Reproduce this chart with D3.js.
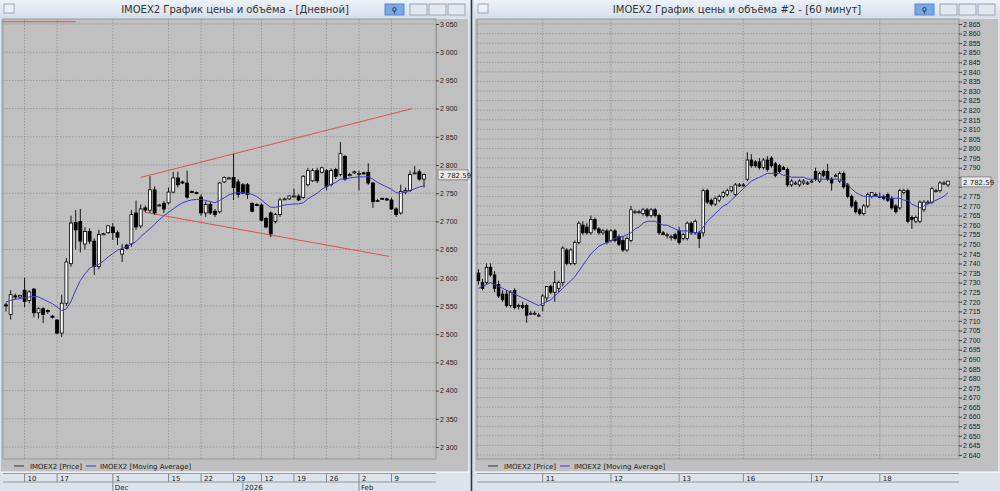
<!DOCTYPE html>
<html><head><meta charset="utf-8">
<script src="https://cdn.jsdelivr.net/npm/d3@7"></script>
<style>body{margin:0;background:#d6dee8}svg{display:block;font-family:"DejaVu Sans",sans-serif}</style>
</head><body><svg width="1000" height="491"></svg>
<script>
// daily candles [open, high, low, close]
const dailyCandles = [
[2552,2556,2540,2550],[2535,2578,2526,2570],[2568,2572,2562,2566],[2566,2570,2564,2569],[2578,2600,2548,2558],
[2560,2578,2555,2575],[2580,2582,2530,2538],[2538,2548,2528,2545],[2545,2548,2520,2535],[2542,2544,2536,2540],
[2532,2534,2528,2530],[2525,2527,2500,2502],[2502,2570,2495,2555],[2555,2635,2550,2628],[2625,2710,2620,2697],
[2698,2720,2650,2685],[2700,2722,2645,2665],[2660,2690,2650,2682],[2682,2688,2660,2665],[2665,2670,2605,2620],
[2620,2685,2615,2677],[2677,2680,2676,2678],[2680,2693,2678,2692],[2690,2697,2667,2680],[2680,2684,2658,2672],
[2642,2660,2628,2650],[2658,2660,2650,2652],[2660,2720,2655,2712],[2715,2737,2685,2690],[2692,2730,2688,2722],
[2724,2728,2716,2720],[2720,2780,2715,2756],[2756,2762,2712,2715],[2729,2731,2727,2729],[2732,2736,2715,2722],
[2733,2760,2730,2752],[2752,2788,2750,2777],[2777,2788,2760,2765],[2770,2772,2766,2768],[2768,2790,2740,2743],
[2753,2755,2750,2752],[2751,2753,2748,2750],[2743,2748,2710,2715],[2715,2735,2708,2730],[2730,2734,2712,2715],
[2718,2722,2708,2712],[2717,2770,2714,2768],[2770,2780,2768,2778],[2777,2779,2775,2777],[2778,2820,2738,2760],
[2770,2775,2742,2748],[2765,2768,2748,2750],[2765,2768,2740,2748],[2732,2734,2716,2718],[2730,2732,2727,2729],
[2729,2732,2700,2702],[2705,2708,2688,2690],[2715,2718,2672,2678],[2700,2715,2696,2712],[2712,2742,2708,2738],
[2740,2742,2738,2740],[2740,2746,2738,2745],[2745,2758,2743,2745],[2745,2748,2736,2738],[2742,2782,2740,2780],
[2765,2795,2762,2790],[2772,2794,2770,2790],[2790,2795,2768,2772],[2787,2797,2785,2795],[2790,2793,2755,2762],
[2765,2794,2762,2790],[2792,2795,2775,2780],[2783,2841,2780,2820],[2815,2818,2772,2775],[2781,2786,2780,2783],
[2786,2790,2784,2788],[2785,2790,2755,2785],[2786,2788,2783,2785],[2787,2803,2765,2768],[2768,2770,2724,2735],
[2737,2740,2734,2737],[2741,2742,2738,2740],[2740,2742,2736,2738],[2738,2742,2720,2722],[2722,2725,2708,2712],
[2715,2765,2712,2753],[2752,2760,2748,2755],[2755,2790,2752,2783],[2785,2798,2784,2786],[2788,2792,2772,2775],
[2775,2785,2760,2783]
];
const dailyMa = [2557,2560,2562,2563,2565,2566,2567,2566,2562,2558,2554,2548,2542,2545,2558,2578,2595,2607,2617,2621,
2624,2630,2637,2643,2649,2652,2655,2660,2664,2673,2680,2687,2695,2703,2710,2716,2722,2728,2733,2736,
2738,2739,2739,2737,2735,2733,2737,2742,2747,2750,2751,2751,2750,2748,2744,2738,2731,2725,2725,2727,
2729,2730,2731,2731,2733,2740,2745,2750,2757,2762,2766,2769,2775,2775,2777,2778,2779,2779,2779,2775,
2769,2765,2761,2757,2751,2750,2752,2755,2758,2761,2763];
const dailyTicks = [2300,2350,2400,2450,2500,2550,2600,2650,2700,2750,2800,2850,2900,2950,3000,3050];
const dailyDays = [[4,"10"],[11,"17"],[23,"1"],[35,"15"],[42,"22"],[49,"29"],[55,"12"],[62,"19"],[69,"26"],[76,"2"],[83,"9"]];
const dailyMonths = [[23,"Dec"],[51,"2026"],[76,"Feb"]];
// trend lines [index1, value1, index2, value2]
const dailyLines = [[-0.7,3054,15,3054],[29,2778,87.5,2900],[30,2716,82.5,2638]];

// hourly candles [open, high, low, close]
const hourlyCandles = [
[2735,2737,2729,2731],[2730,2732,2726,2727],[2730,2740,2729,2738],[2738,2740,2733,2734],[2734,2736,2725,2727],
[2729,2731,2722,2723],[2724,2726,2720,2721],[2724,2726,2717,2718],[2718,2726,2717,2725],[2726,2727,2716,2717],
[2718,2719,2716,2718],[2718,2720,2716,2717],[2718,2719,2709,2713],[2714,2715,2713,2714],[2714,2715,2713,2714],
[2713,2714,2712,2713],[2718,2724,2715,2723],[2722,2728,2720,2728],[2728,2729,2724,2725],[2725,2736,2720,2730],
[2727,2731,2725,2730],[2730,2749,2728,2748],[2747,2748,2739,2740],[2740,2748,2739,2747],[2740,2752,2739,2751],
[2751,2762,2750,2761],[2760,2762,2755,2756],[2759,2761,2755,2756],[2756,2765,2755,2763],[2763,2764,2757,2758],
[2758,2759,2755,2756],[2756,2758,2755,2757],[2757,2758,2750,2751],[2752,2758,2751,2757],[2757,2758,2751,2752],
[2754,2755,2749,2750],[2752,2754,2746,2747],[2747,2754,2746,2753],[2752,2770,2751,2768],[2767,2768,2766,2767],
[2767,2768,2766,2767],[2766,2769,2765,2768],[2768,2769,2764,2765],[2765,2769,2764,2768],[2768,2769,2764,2765],
[2765,2766,2755,2756],[2756,2757,2755,2755],[2755,2756,2753,2755],[2754,2755,2752,2754],[2755,2756,2752,2753],
[2757,2759,2750,2751],[2753,2756,2752,2755],[2753,2762,2752,2761],[2761,2762,2755,2756],[2756,2763,2755,2762],
[2756,2757,2748,2753],[2756,2779,2754,2778],[2778,2779,2771,2772],[2773,2774,2770,2771],[2771,2775,2770,2774],
[2773,2776,2772,2775],[2775,2778,2774,2777],[2776,2779,2775,2778],[2778,2780,2777,2780],[2776,2782,2775,2781],
[2781,2782,2780,2781],[2781,2782,2780,2781],[2784,2798,2783,2794],[2794,2797,2790,2791],[2793,2794,2790,2791],
[2793,2795,2789,2790],[2790,2795,2789,2794],[2794,2796,2788,2789],[2795,2796,2790,2791],[2792,2793,2785,2786],
[2791,2792,2787,2788],[2790,2791,2789,2789],[2789,2790,2780,2781],[2781,2784,2780,2783],[2782,2783,2781,2782],
[2781,2784,2780,2783],[2782,2784,2781,2783],[2782,2783,2781,2782],[2783,2784,2782,2783],[2788,2790,2783,2784],
[2783,2788,2782,2787],[2788,2789,2785,2786],[2788,2792,2783,2784],[2784,2785,2778,2782],[2786,2787,2785,2786],
[2783,2788,2782,2787],[2787,2788,2779,2780],[2781,2782,2774,2775],[2775,2776,2769,2770],[2772,2773,2766,2767],
[2768,2769,2765,2766],[2766,2771,2765,2770],[2770,2777,2769,2776],[2775,2777,2774,2777],[2776,2777,2775,2776],
[2775,2777,2774,2775],[2775,2776,2773,2774],[2776,2777,2772,2773],[2774,2775,2768,2769],[2770,2771,2766,2767],
[2769,2779,2768,2778],[2777,2779,2776,2778],[2778,2779,2761,2762],[2764,2765,2758,2763],[2762,2765,2761,2764],
[2762,2773,2761,2772],[2768,2773,2767,2772],[2772,2773,2771,2772],[2772,2780,2771,2779],[2778,2779,2777,2778],
[2778,2783,2777,2782],[2782,2783,2781,2782],[2781,2783,2780,2783]
];
const hourlyMa = [2727,2728,2729,2730,2729,2728,2727,2726,2725,2724,2723,2722,2721,2720,2719,2718,2719,2720,2721,2723,
2725,2727,2729,2731,2733,2736,2739,2742,2745,2747,2749,2750,2751,2752,2753,2754,2754,2755,2756,2758,
2759,2761,2762,2762,2762,2761,2760,2760,2759,2758,2757,2757,2757,2756,2756,2756,2759,2762,2764,2766,
2768,2770,2771,2773,2775,2777,2779,2781,2783,2784,2785,2786,2787,2787,2787,2787,2786,2786,2785,2785,
2785,2785,2784,2784,2784,2784,2784,2784,2784,2784,2784,2783,2781,2779,2777,2776,2775,2775,2775,2775,
2775,2775,2774,2774,2774,2774,2773,2773,2771,2770,2769,2770,2771,2772,2773,2774,2775,2777];
const hourlyTicks = d3.range(2640, 2866, 5);
const hourlyDays = [[16,"11"],[33,"12"],[50,"13"],[66,"16"],[83,"17"],[100,"18"]];
const lastPrice = 2782.59;

const svg = d3.select("svg");
const fmt = d3.formatLocale({decimal: ".", thousands: " ", grouping: [3], currency: ["", ""]}).format(",d");

function drawPanel(p) {
  const g = svg.append("g").attr("transform", `translate(${p.x0},0)`);
  const w = p.width;
  // window frame
  g.append("rect").attr("width", w).attr("height", 491).attr("fill", "#dbe3ec");
  const tg = g.append("linearGradient").attr("id", "tb" + p.x0).attr("x1", 0).attr("x2", 0).attr("y1", 0).attr("y2", 1);
  tg.append("stop").attr("offset", 0).attr("stop-color", "#edf2f8");
  tg.append("stop").attr("offset", 1).attr("stop-color", "#d5dee9");
  g.append("rect").attr("width", w).attr("height", 18).attr("fill", `url(#tb${p.x0})`);
  g.append("text").attr("x", w / 2).attr("y", 13).attr("text-anchor", "middle")
    .attr("font-size", 10).attr("fill", "#333").text(p.title);
  g.append("rect").attr("x", 4).attr("y", 4).attr("width", 10).attr("height", 9).attr("fill", "#eef").attr("stroke", "#9aa");
  const bx = w - 85;
  g.append("rect").attr("x", bx).attr("y", 4).attr("width", 19).attr("height", 11).attr("fill", "#7aa7e6").attr("stroke", "#5a86c8");
  g.append("text").attr("x", bx + 9.5).attr("y", 13).attr("text-anchor", "middle").attr("font-size", 8).attr("fill", "#123").text("⚲");
  [0, 1, 2].forEach(k => g.append("rect").attr("x", bx + 25 + k * 19).attr("y", 4).attr("width", 17).attr("height", 11)
    .attr("fill", "#e3e8ee").attr("stroke", "#9aa6b4"));

  const pl = p.plotLeft, pr = p.plotRight, pt = 19, pb = 459;
  g.append("rect").attr("x", pl - 2).attr("y", pt).attr("width", w - pl).attr("height", 472 - pt).attr("fill", "#c0c0c0");
  g.append("rect").attr("x", pl).attr("y", pt).attr("width", pr - pl).attr("height", pb - pt)
    .attr("fill", "#c0c0c0").attr("stroke", "#999");

  const x = d3.scaleLinear().domain([0, p.candles.length - 1]).range([p.firstX, p.lastX]);
  const y = d3.scaleLinear().domain(p.domain).range([p.yBottom, p.yTop]);

  // grid
  g.append("g").selectAll("line").data(p.ticks).join("line")
    .attr("x1", pl).attr("x2", pr).attr("y1", d => y(d)).attr("y2", d => y(d))
    .attr("stroke", "#7f7f7f").attr("stroke-dasharray", "1.5,1.5").attr("stroke-width", 0.6);
  g.append("g").selectAll("line").data(p.days).join("line")
    .attr("x1", d => x(d[0])).attr("x2", d => x(d[0])).attr("y1", pt).attr("y2", pb)
    .attr("stroke", "#7f7f7f").attr("stroke-dasharray", "1.5,1.5").attr("stroke-width", 0.6);

  // y axis
  const ly = y(lastPrice);
  const ya = g.append("g").attr("transform", `translate(${pr},0)`)
    .call(d3.axisRight(y).tickValues(p.ticks).tickSize(3).tickFormat(fmt));
  ya.select(".domain").attr("stroke", "#999");
  ya.selectAll("text").attr("font-size", 7).attr("fill", "#222").attr("x", 4)
    .attr("display", d => Math.abs(y(d) - ly) < 8 ? "none" : null);
  ya.selectAll("line").attr("stroke", "#444");
  g.append("rect").attr("x", pr + 2).attr("y", ly - 5).attr("width", 30).attr("height", 10).attr("fill", "#e8e8e8").attr("stroke", "#888");
  g.append("text").attr("x", pr + 4).attr("y", ly + 3).attr("font-size", 7).attr("fill", "#222").text("2 782.59");

  // trend lines
  g.append("g").selectAll("line").data(p.lines || []).join("line")
    .attr("x1", d => x(d[0])).attr("y1", d => y(d[1])).attr("x2", d => x(d[2])).attr("y2", d => y(d[3]))
    .attr("stroke", "#e0504a").attr("stroke-width", 1);

  // candles
  const bw = p.bodyW;
  const c = g.append("g").selectAll("g").data(p.candles).join("g");
  c.append("line").attr("x1", (d, i) => x(i)).attr("x2", (d, i) => x(i))
    .attr("y1", d => y(d[1])).attr("y2", d => y(d[2])).attr("stroke", "#000").attr("stroke-width", 0.9);
  c.append("rect").attr("x", (d, i) => x(i) - bw / 2).attr("width", bw)
    .attr("y", d => y(Math.max(d[0], d[3])))
    .attr("height", d => Math.max(1, Math.abs(y(d[0]) - y(d[3]))))
    .attr("fill", d => d[3] >= d[0] ? "#fff" : "#000").attr("stroke", "#000").attr("stroke-width", 0.8);

  // moving average
  g.append("path").datum(p.ma).attr("fill", "none").attr("stroke", "#3a3acd").attr("stroke-width", 1)
    .attr("d", d3.line().x((d, i) => x(i)).y(d => y(d)));

  // legend
  const lg = g.append("g").attr("font-size", 7).attr("fill", "#222");
  lg.append("line").attr("x1", 14).attr("x2", 24).attr("y1", 466).attr("y2", 466).attr("stroke", "#333");
  lg.append("text").attr("x", 30).attr("y", 468.5).text("IMOEX2 [Price]");
  lg.append("line").attr("x1", 86).attr("x2", 96).attr("y1", 466).attr("y2", 466).attr("stroke", "#3a3acd");
  lg.append("text").attr("x", 100).attr("y", 468.5).text("IMOEX2 [Moving Average]");

  // date axis
  g.append("line").attr("x1", 0).attr("x2", w).attr("y1", 472).attr("y2", 472).attr("stroke", "#fff");
  g.append("line").attr("x1", pl).attr("x2", pr).attr("y1", 473.5).attr("y2", 473.5).attr("stroke", "#999");
  g.append("line").attr("x1", pl).attr("x2", pr).attr("y1", 482).attr("y2", 482).attr("stroke", "#999");
  const da = g.append("g").selectAll("g").data(p.days).join("g");
  da.append("line").attr("x1", d => x(d[0])).attr("x2", d => x(d[0])).attr("y1", 474).attr("y2", 482).attr("stroke", "#888");
  da.append("text").attr("x", d => x(d[0]) + 3).attr("y", 481).attr("font-size", 7).attr("fill", "#222").text(d => d[1]);
  const ma = g.append("g").selectAll("g").data(p.months || []).join("g");
  ma.append("line").attr("x1", d => x(d[0])).attr("x2", d => x(d[0])).attr("y1", 482).attr("y2", 491).attr("stroke", "#888");
  ma.append("text").attr("x", d => x(d[0]) + 2).attr("y", 490).attr("font-size", 7).attr("fill", "#222").text(d => d[1]);
}

drawPanel({
  x0: 0, width: 470, title: "IMOEX2 График цены и объёма - [Дневной]",
  plotLeft: 3, plotRight: 436, firstX: 6, lastX: 424, bodyW: 3,
  domain: [2300, 3050], yBottom: 447, yTop: 24,
  candles: dailyCandles, ma: dailyMa, ticks: dailyTicks, days: dailyDays, months: dailyMonths, lines: dailyLines
});
drawPanel({
  x0: 474, width: 526, title: "IMOEX2 График цены и объёма #2 - [60 минут]",
  plotLeft: 3, plotRight: 485, firstX: 4.5, lastX: 474, bodyW: 2.6,
  domain: [2640, 2865], yBottom: 455, yTop: 24,
  candles: hourlyCandles, ma: hourlyMa, ticks: hourlyTicks, days: hourlyDays
});
svg.append("line").attr("x1", 471.5).attr("x2", 471.5).attr("y1", 0).attr("y2", 491).attr("stroke", "#333").attr("stroke-width", 1.5);
</script></body></html>
